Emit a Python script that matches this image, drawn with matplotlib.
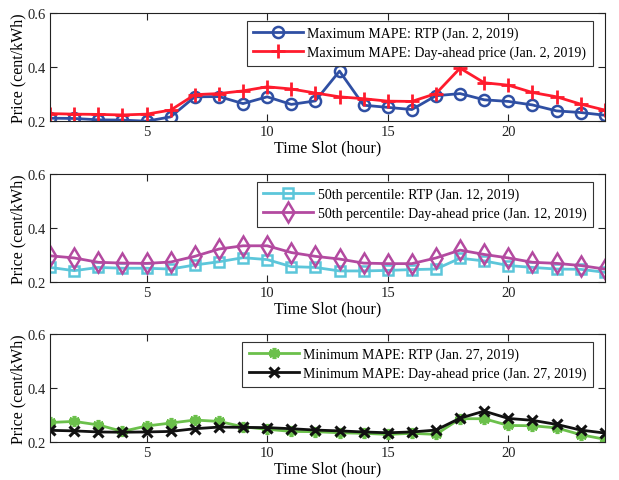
import matplotlib
matplotlib.use("Agg")
import matplotlib.pyplot as plt
import numpy as np

plt.rcParams['font.family'] = ['Liberation Serif', 'DejaVu Serif']

hours = np.arange(1, 25)

# Maximum MAPE day (Jan. 2, 2019)
maxRtp = [0.211, 0.210, 0.205, 0.204, 0.200, 0.216, 0.290, 0.291, 0.265, 0.290, 0.262, 0.275,
          0.385, 0.259, 0.251, 0.243, 0.294, 0.302, 0.279, 0.273, 0.260, 0.238, 0.232, 0.222]
maxDa = [0.228, 0.226, 0.225, 0.223, 0.226, 0.241, 0.298, 0.302, 0.312, 0.327, 0.319, 0.304,
         0.290, 0.283, 0.274, 0.273, 0.302, 0.396, 0.342, 0.333, 0.306, 0.290, 0.263, 0.241]

# 50th percentile day (Jan. 12, 2019)
medRtp = [0.255, 0.243, 0.255, 0.252, 0.252, 0.249, 0.264, 0.276, 0.291, 0.284, 0.258, 0.255,
          0.242, 0.242, 0.244, 0.247, 0.249, 0.289, 0.279, 0.262, 0.255, 0.249, 0.248, 0.237]
medDa = [0.298, 0.290, 0.274, 0.271, 0.270, 0.275, 0.296, 0.323, 0.335, 0.335, 0.310, 0.296,
         0.286, 0.271, 0.269, 0.269, 0.290, 0.319, 0.303, 0.290, 0.274, 0.270, 0.262, 0.249]

# Minimum MAPE day (Jan. 27, 2019)
minRtp = [0.273, 0.277, 0.264, 0.240, 0.260, 0.271, 0.282, 0.277, 0.257, 0.248, 0.240, 0.239,
          0.235, 0.233, 0.229, 0.233, 0.229, 0.287, 0.287, 0.262, 0.261, 0.253, 0.228, 0.211]
minDa = [0.244, 0.242, 0.238, 0.237, 0.238, 0.240, 0.250, 0.256, 0.255, 0.254, 0.250, 0.245,
         0.242, 0.238, 0.235, 0.238, 0.245, 0.289, 0.315, 0.288, 0.281, 0.266, 0.245, 0.234]

panels = [
    (maxRtp, maxDa,
     'Maximum MAPE: RTP (Jan. 2, 2019)', 'Maximum MAPE: Day-ahead price (Jan. 2, 2019)',
     dict(color='#2f4fa3', marker='o', markersize=8, markerfacecolor='none', markeredgewidth=1.8),
     dict(color='#ff1b2d', marker='+', markersize=10, markeredgewidth=2)),
    (medRtp, medDa,
     '50th percentile: RTP (Jan. 12, 2019)', '50th percentile: Day-ahead price (Jan. 12, 2019)',
     dict(color='#5cc6da', marker='s', markersize=7, markerfacecolor='none', markeredgewidth=1.8),
     dict(color='#b34aa0', marker='d', markersize=10, markerfacecolor='none', markeredgewidth=1.8)),
    (minRtp, minDa,
     'Minimum MAPE: RTP (Jan. 27, 2019)', 'Minimum MAPE: Day-ahead price (Jan. 27, 2019)',
     dict(color='#6bc04b', marker=(6, 2, 0), markersize=8, markeredgewidth=2.6),
     dict(color='#111111', marker='x', markersize=7, markeredgewidth=2.2)),
]

fig = plt.figure(figsize=(6.19, 4.81), dpi=100)
tops = [0.971, 0.636, 0.3035]
height = 0.225
left, width = 0.081, 0.896

for top, (rtp, da, labRtp, labDa, styleRtp, styleDa) in zip(tops, panels):
    ax = fig.add_axes([left, top - height, width, height])
    ax.plot(hours, rtp, linewidth=2, label=labRtp, **styleRtp)
    ax.plot(hours, da, linewidth=2, label=labDa, **styleDa)
    ax.set_xlim(1, 24)
    ax.set_ylim(0.2, 0.6)
    ax.set_xticks([5, 10, 15, 20])
    ax.set_yticks([0.2, 0.4, 0.6])
    ax.set_yticklabels(['0.2', '0.4', '0.6'])
    ax.tick_params(direction='in', top=True, right=True, labelsize=10.5, colors='#222222',
                   length=5, width=0.8, pad=3)
    for s in ax.spines.values():
        s.set_linewidth(0.8)
        s.set_color('#222222')
    ax.set_xlabel('Time Slot (hour)', fontsize=11.5, labelpad=1)
    ax.set_ylabel('Price (cent/kWh)', fontsize=11.5, labelpad=1)
    leg = ax.legend(loc='upper right', fontsize=10, fancybox=False, edgecolor='#333333',
                    framealpha=1, borderpad=0.45, labelspacing=0.4, handlelength=3.6,
                    handletextpad=0.3, borderaxespad=0.0, bbox_to_anchor=(0.978, 0.93))
    leg.get_frame().set_linewidth(0.8)

fig.savefig('out.png', dpi=100)
